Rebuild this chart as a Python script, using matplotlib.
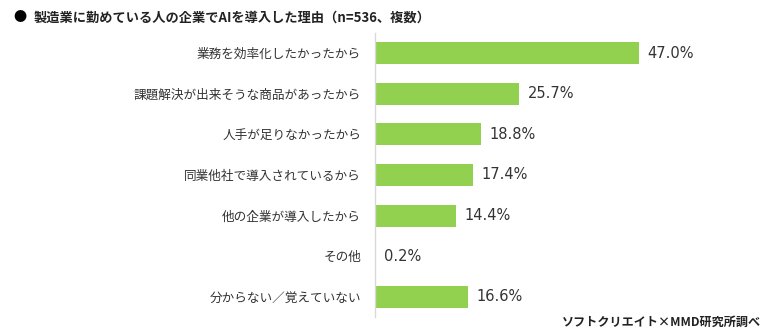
import matplotlib
matplotlib.use('Agg')
import matplotlib.pyplot as plt

plt.rcParams['font.family'] = ['Noto Sans CJK JP', 'DejaVu Sans']

# データ
reasons = [
    '業務を効率化したかったから',
    '課題解決が出来そうな商品があったから',
    '人手が足りなかったから',
    '同業他社で導入されているから',
    '他の企業が導入したから',
    'その他',
    '分からない／覚えていない',
]
values = [47.0, 25.7, 18.8, 17.4, 14.4, 0.2, 16.6]

title = '製造業に勤めている人の企業でAIを導入した理由（n=536、複数）'
source = 'ソフトクリエイト×MMD研究所調べ'

bar_color = '#92D050'
text_color = '#333333'

fig = plt.figure(figsize=(7.7, 3.36), dpi=100)
ax = fig.add_axes([0.487, 0.0565, 0.365, 0.8455])

y = list(range(len(reasons)))
ax.barh(y, values, height=0.54, color=bar_color)
ax.set_xlim(0, 50)
ax.set_ylim(len(reasons) - 0.5, -0.5)

for yi, v in zip(y, values):
    ax.annotate(f'{v:.1f}%', xy=(v, yi), xytext=(6, 0), textcoords='offset points',
                va='center', ha='left', fontsize=10.5, color=text_color,
                family=['DejaVu Sans'])

ax.set_yticks(y)
ax.set_yticklabels(reasons, fontsize=9.1, color=text_color)
ax.tick_params(axis='y', length=0, pad=10)
ax.set_xticks([])
for s in ['top', 'right', 'bottom']:
    ax.spines[s].set_visible(False)
ax.spines['left'].set_color('#D9D9D9')
ax.spines['left'].set_linewidth(1.0)

fig.text(0.018, 0.948, '●', fontsize=9.5, color='black', va='center', ha='left')
fig.text(0.043, 0.948, title, fontsize=9.5, fontweight='bold', color='#222222',
         va='center', ha='left')
fig.text(0.988, 0.04, source, fontsize=8.7, fontweight='bold', color='#222222',
         va='center', ha='right')

fig.savefig('out.png', dpi=100)
